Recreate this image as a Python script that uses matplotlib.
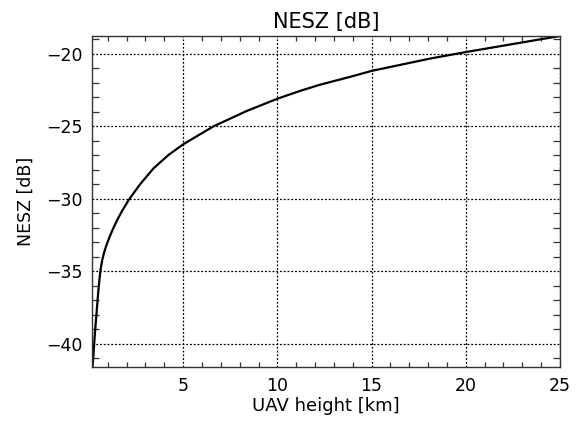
import matplotlib
matplotlib.use("Agg")
import matplotlib.pyplot as plt
from matplotlib.ticker import MultipleLocator

# Values
height_km = [0.19, 0.25, 0.32, 0.40, 0.50, 0.55, 0.60, 0.65, 0.70, 0.80,
             0.90, 1.00, 1.15, 1.30, 1.50, 1.75, 2.12, 2.72, 3.42, 4.22,
             5.02, 6.60, 8.38, 10.02, 11.20, 12.27, 13.86, 15.00, 18.10,
             20.00, 25.00]
nesz_db = [-41.6, -40.5, -39.2, -37.9, -36.3, -35.65, -35.05, -34.6, -34.25,
           -33.72, -33.3, -32.93, -32.45, -32.0, -31.45, -30.85, -30.05,
           -28.98, -27.9, -26.97, -26.22, -25.0, -23.93, -23.08, -22.55,
           -22.12, -21.58, -21.17, -20.32, -19.87, -18.76]

x_ticks = [5, 10, 15, 20, 25]
y_ticks = [-40, -35, -30, -25, -20]

plt.rcParams['font.family'] = ['DejaVu Sans']

fig = plt.figure(figsize=(5.87, 4.32), dpi=100)
ax = fig.add_axes([0.1567, 0.1505, 0.954 - 0.1567, 0.9167 - 0.1505])

ax.plot(height_km, nesz_db, color='black', lw=1.6, solid_capstyle='butt',
        solid_joinstyle='round')

ax.set_xlim(0.16, 25)
ax.set_ylim(-41.6, -18.76)
ax.set_xticks(x_ticks)
ax.set_yticks(y_ticks)
ax.set_xticklabels([str(v) for v in x_ticks])
ax.set_yticklabels(['\u2212' + str(abs(v)) for v in y_ticks])
ax.xaxis.set_minor_locator(MultipleLocator(1))
ax.yaxis.set_minor_locator(MultipleLocator(1))

ax.grid(True, which='major', color='black', linestyle=(0, (1.5, 1.5)), lw=0.9)
ax.tick_params(which='major', length=0, labelsize=12.5, pad=7)
ax.tick_params(axis='x', which='minor', direction='in', length=3.3, width=0.9,
               top=True, bottom=True, color='#333333')
ax.tick_params(axis='y', which='minor', direction='in', length=5.2, width=0.9,
               left=True, right=True, color='#333333')

for s in ax.spines.values():
    s.set_color('#333333')
    s.set_linewidth(1.0)

ax.set_title('NESZ [dB]', fontsize=15, pad=6)
ax.set_xlabel('UAV height [km]', fontsize=13, labelpad=2)
ax.set_ylabel('NESZ [dB]', fontsize=12.5, labelpad=8)

fig.savefig('out.png', dpi=100, facecolor='white')
